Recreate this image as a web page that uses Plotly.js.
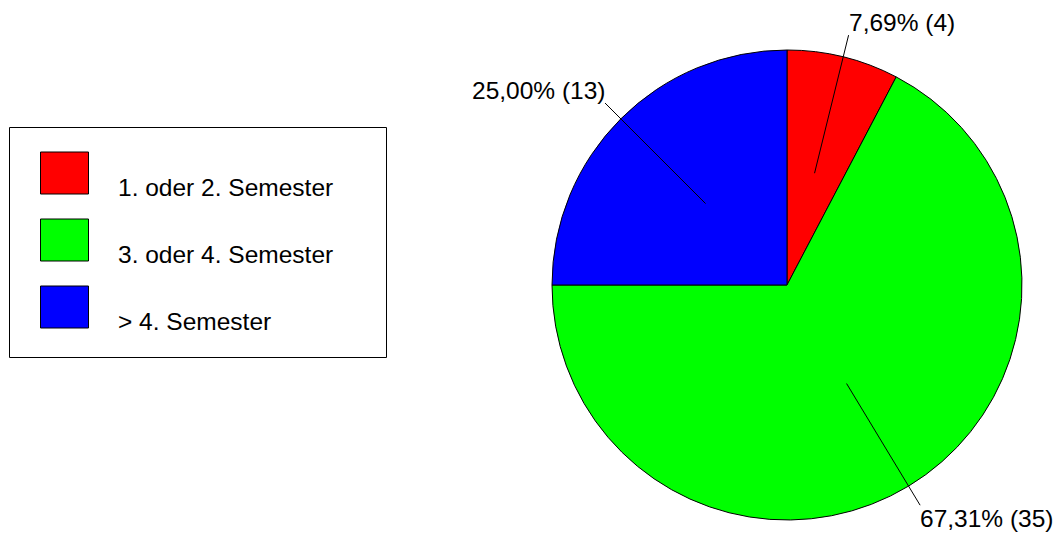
<!DOCTYPE html>
<html><head><meta charset="utf-8">
<script src="https://cdn.plot.ly/plotly-3.0.1.min.js"></script>
<style>html,body{margin:0;padding:0;background:#fff}#chart{width:1058px;height:533px}</style>
</head><body><div id="chart"></div>
<script>
var categories = ["1. oder 2. Semester", "3. oder 4. Semester", "> 4. Semester"];
var counts = [4, 35, 13];
var colors = ["#ff0000", "#00ff00", "#0000ff"];

var W = 1058, H = 533;
var FONT = "Liberation Sans, Arial, sans-serif";
var FS = 24.5;
// pie geometry (layout)
var cx = 787, cy = 285, R = 235;
function px(x){ return x / W; }
function py(y){ return 1 - y / H; }

var total = counts.reduce(function(a,b){return a+b;}, 0);
var shapes = [], annotations = [];

// leader lines and labels, derived from the values
var cum = 0;
counts.forEach(function(v, i){
  var mid = (cum + v/2) / total * 2 * Math.PI;
  cum += v;
  var s = Math.sin(mid), c = Math.cos(mid);
  var x0 = cx + 0.49*R*s, y0 = cy - 0.49*R*c;
  var x1 = cx + 1.095*R*s, y1 = cy - 1.095*R*c;
  shapes.push({type:"line", xref:"paper", yref:"paper", x0:px(x0), y0:py(y0), x1:px(x1), y1:py(y1),
    line:{color:"#000", width:1}});
  var txt = (v/total*100).toFixed(2).replace(".", ",") + "% (" + v + ")";
  annotations.push({xref:"paper", yref:"paper", x:px(x1 + (s>0 ? -1 : 1)), y:py(y1 + (c>0 ? 2 : -1)), text:txt, showarrow:false,
    xanchor: s>0 ? "left" : "right", yanchor: c>0 ? "bottom" : "top",
    font:{family:FONT, size:FS, color:"#000"}, borderpad:0});
});

// legend box
shapes.push({type:"rect", xref:"paper", yref:"paper", x0:px(9.5), x1:px(386.5), y0:py(127.5), y1:py(357.5),
  line:{color:"#000", width:1}, fillcolor:"rgba(0,0,0,0)"});
categories.forEach(function(name, i){
  var top = 152 + i*67;
  shapes.push({type:"rect", xref:"paper", yref:"paper", x0:px(40.5), x1:px(88.5), y0:py(top), y1:py(top+42),
    line:{color:"#000", width:1}, fillcolor:colors[i]});
  annotations.push({xref:"paper", yref:"paper", x:px(116), y:py(top+35), text:name, showarrow:false,
    xanchor:"left", yanchor:"middle", font:{family:FONT, size:FS, color:"#000"}});
});

var data = [{
  type:"pie", values:counts, labels:categories, sort:false, direction:"clockwise", rotation:0,
  marker:{colors:colors, line:{color:"#000", width:1}}, textinfo:"none", hoverinfo:"none",
  domain:{x:[px(cx-R), px(cx+R)], y:[py(cy+R), py(cy-R)]}, showlegend:false
}];

var layout = {
  width:W, height:H, margin:{l:0,r:0,t:0,b:0}, paper_bgcolor:"#fff", plot_bgcolor:"#fff",
  showlegend:false, shapes:shapes, annotations:annotations, font:{family:FONT}
};
Plotly.newPlot("chart", data, layout, {staticPlot:true});
</script></body></html>
